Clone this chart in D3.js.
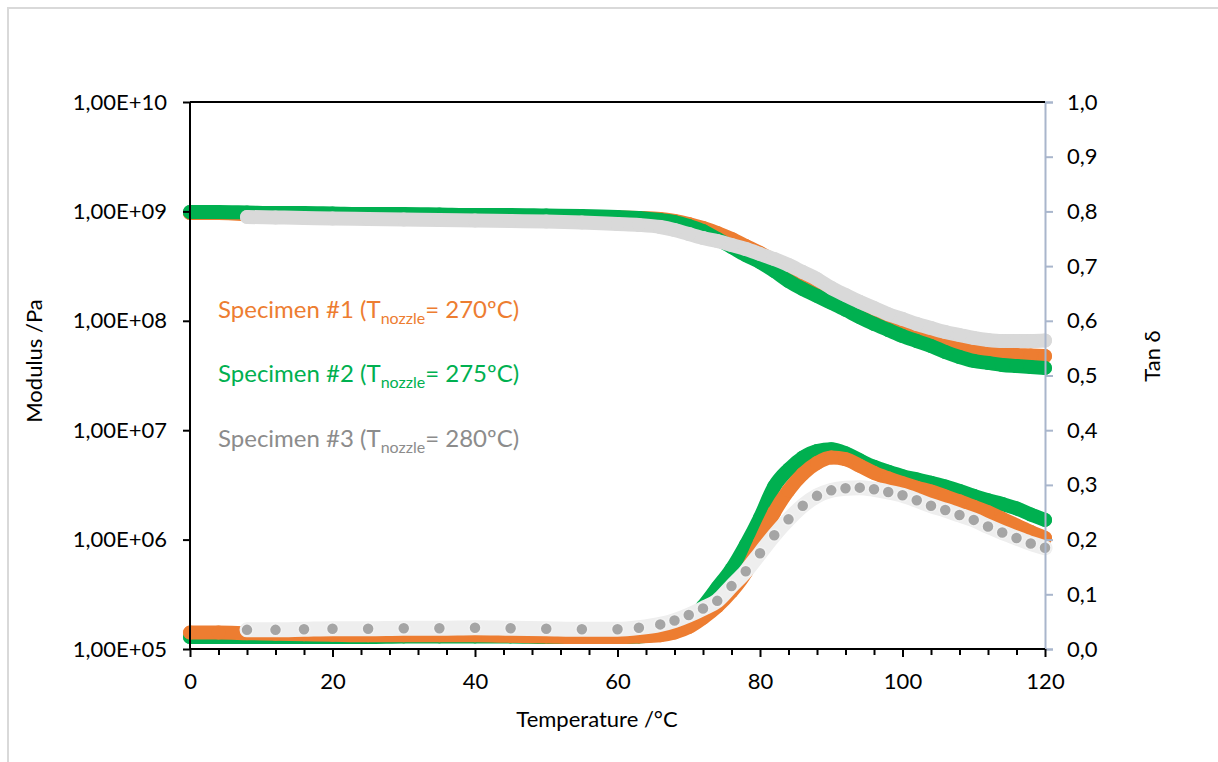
<!DOCTYPE html>
<html><head><meta charset="utf-8">
<script src="https://cdn.jsdelivr.net/npm/d3@7"></script>
<style>
html,body{margin:0;padding:0;background:#fff;}
svg{display:block;font-family:Lato,"Open Sans",sans-serif;}
</style></head>
<body><svg id="chart" width="1218" height="762"></svg>
<script>
// ---- data ----
const temps = [0,4,8,12,16,20,25,30,35,40,45,50,55,60,63,66,68,70,72,74,76,78,80,82,84,86,88,90,92,94,96,98,100,102,104,106,108,110,112,114,116,118,120];
const tempsS3 = [8,12,16,20,25,30,35,40,45,50,55,60,63,66,68,70,72,74,76,78,80,82,84,86,88,90,92,94,96,98,100,102,104,106,108,110,112,114,116,118,120];

const modulusS1 = [9.66e8,9.66e8,9.46e8,9.46e8,9.37e8,9.27e8,9.27e8,9.17e8,9.08e8,9.08e8,9.08e8,8.98e8,8.89e8,8.80e8,8.71e8,8.53e8,8.17e8,7.67e8,7.05e8,6.35e8,5.60e8,4.83e8,4.17e8,3.52e8,2.97e8,2.51e8,2.12e8,1.79e8,1.55e8,1.31e8,1.13e8,9.75e7,8.41e7,7.57e7,6.82e7,6.27e7,5.77e7,5.41e7,5.19e7,4.98e7,4.86e7,4.82e7,4.76e7];
const modulusS2 = [9.87e8,9.87e8,9.77e8,9.66e8,9.66e8,9.57e8,9.46e8,9.46e8,9.37e8,9.27e8,9.27e8,9.17e8,9.08e8,8.89e8,8.71e8,8.34e8,8.00e8,7.36e8,6.62e8,5.60e8,4.73e8,3.99e8,3.44e8,2.85e8,2.31e8,1.95e8,1.69e8,1.46e8,1.26e8,1.08e8,9.36e7,8.24e7,7.26e7,6.53e7,5.89e7,5.19e7,4.67e7,4.30e7,4.12e7,3.95e7,3.86e7,3.78e7,3.71e7];
const modulusS3 = [8.89e8,8.80e8,8.71e8,8.61e8,8.53e8,8.44e8,8.34e8,8.26e8,8.17e8,8.09e8,7.92e8,7.67e8,7.52e8,7.20e8,6.76e8,6.21e8,5.71e8,5.36e8,4.93e8,4.53e8,4.08e8,3.67e8,3.24e8,2.79e8,2.41e8,2.00e8,1.72e8,1.49e8,1.31e8,1.15e8,1.04e8,9.35e7,8.59e7,7.91e7,7.42e7,6.97e7,6.67e7,6.53e7,6.53e7,6.53e7,6.60e7];

const tanS1 = [0.030,0.030,0.029,0.028,0.027,0.026,0.025,0.025,0.025,0.025,0.024,0.023,0.022,0.022,0.023,0.025,0.030,0.040,0.057,0.078,0.105,0.140,0.195,0.250,0.290,0.320,0.340,0.350,0.347,0.335,0.322,0.312,0.303,0.295,0.288,0.279,0.270,0.260,0.250,0.238,0.226,0.214,0.203];
const tanS2 = [0.022,0.022,0.022,0.022,0.022,0.022,0.022,0.023,0.023,0.023,0.023,0.022,0.022,0.022,0.023,0.028,0.036,0.052,0.078,0.112,0.146,0.190,0.240,0.297,0.328,0.350,0.362,0.365,0.358,0.345,0.333,0.324,0.316,0.310,0.304,0.297,0.289,0.280,0.272,0.265,0.257,0.246,0.236];
const tanS3 = [0.035,0.035,0.036,0.037,0.037,0.038,0.038,0.039,0.038,0.037,0.036,0.036,0.039,0.045,0.052,0.062,0.074,0.088,0.115,0.142,0.175,0.208,0.237,0.262,0.280,0.290,0.294,0.295,0.292,0.287,0.281,0.272,0.262,0.254,0.245,0.236,0.224,0.213,0.203,0.193,0.185];

const leftTicks = [1e5,1e6,1e7,1e8,1e9,1e10];
const leftTickLabels = ["1,00E+05","1,00E+06","1,00E+07","1,00E+08","1,00E+09","1,00E+10"];
const rightTicks = [0,0.1,0.2,0.3,0.4,0.5,0.6,0.7,0.8,0.9,1.0];
const xMajorTicks = [0,20,40,60,80,100,120];
const legendNames = ["Specimen #1 (T","Specimen #2 (T","Specimen #3 (T"];
const legendTemps = ["= 270ºC)","= 275ºC)","= 280ºC)"];

// ---- layout ----
const svg = d3.select("#chart");
const L = 190, R = 1045, T = 102, B = 649;
const x = d3.scaleLinear().domain([0,120]).range([L,R]);
const yL = d3.scaleLog().domain([1e5,1e10]).range([B,T]);
const yR = d3.scaleLinear().domain([0,1]).range([B,T]);

svg.append("rect").attr("x",8).attr("y",8).attr("width",1230).attr("height",780)
  .attr("fill","#fff").attr("stroke","#d9d9d9").attr("stroke-width",2);

const colors = {s1:"#ED7D31", s2:"#00B050", s3mod:"#D9D9D9", s3tan:"#A5A5A5"};

function drawBand(xs, ys, yScale, color, width){
  const pts = xs.map((t,i)=>[t, ys[i]]);
  const line = d3.line().x(d=>x(d[0])).y(d=>yScale(d[1])).curve(d3.curveMonotoneX);
  svg.append("path").datum(pts).attr("d",line).attr("fill","none")
    .attr("stroke",color).attr("stroke-width",width)
    .attr("stroke-linecap","round").attr("stroke-linejoin","round");
  svg.append("g").selectAll("circle").data(pts).join("circle")
    .attr("cx",d=>x(d[0])).attr("cy",d=>yScale(d[1])).attr("r",width/2).attr("fill",color);
}

// modulus
drawBand(temps, modulusS1, yL, colors.s1, 14);
drawBand(temps, modulusS2, yL, colors.s2, 14);
drawBand(tempsS3, modulusS3, yL, colors.s3mod, 14);
// tan delta
drawBand(temps, tanS2, yR, colors.s2, 14);
drawBand(temps, tanS1, yR, colors.s1, 14);
{
  const pts = tempsS3.map((t,i)=>[t, tanS3[i]]);
  const line = d3.line().x(d=>x(d[0])).y(d=>yR(d[1])).curve(d3.curveMonotoneX);
  svg.append("path").datum(pts).attr("d",line).attr("fill","none")
    .attr("stroke","#EEEEEE").attr("stroke-width",15)
    .attr("stroke-linecap","round").attr("stroke-linejoin","round");
  svg.append("g").selectAll("circle").data(pts).join("circle")
    .attr("cx",d=>x(d[0])).attr("cy",d=>yR(d[1])).attr("r",6)
    .attr("fill",colors.s3tan).attr("stroke","#F2F2F2").attr("stroke-width",1.5);
}

// ---- axes ----
const fontSize = 22;
// right axis (tan delta)
const axR = d3.axisRight(yR).tickValues(rightTicks).tickSize(8).tickPadding(14)
  .tickFormat(d=>d3.format(".1f")(d).replace(".",","));
const gR = svg.append("g").attr("transform",`translate(${R},0)`).call(axR);
gR.select(".domain").attr("stroke","#A9B6CC").attr("stroke-width",2);
gR.selectAll(".tick line").attr("stroke","#A9B6CC").attr("stroke-width",2);
gR.selectAll("text").attr("fill","#000").style("font-size",fontSize+"px").style("font-family","Lato");

// bottom axis
const axB = d3.axisBottom(x).tickValues(d3.range(0,121,4)).tickSize(6)
  .tickFormat(d=> xMajorTicks.includes(d) ? d : "");
const gB = svg.append("g").attr("transform",`translate(0,${B})`).call(axB);
gB.select(".domain").attr("stroke","#000").attr("stroke-width",2).attr("d",`M${L},0H${R}`);
gB.selectAll(".tick line").attr("stroke","#000").attr("stroke-width",2)
  .attr("y2",d=> xMajorTicks.includes(d)?8:6);
gB.selectAll("text").attr("fill","#000").attr("y",24).style("font-size",fontSize+"px").style("font-family","Lato");

// left axis
const axL = d3.axisLeft(yL).tickValues(leftTicks).tickSize(7).tickPadding(16)
  .tickFormat((d,i)=>leftTickLabels[i]);
const gLft = svg.append("g").attr("transform",`translate(${L},0)`).call(axL);
gLft.select(".domain").attr("stroke","#000").attr("stroke-width",2).attr("d",`M0,${B}V${T}`);
gLft.selectAll(".tick line").attr("stroke","#000").attr("stroke-width",2);
gLft.selectAll("text").attr("fill","#000").style("font-size",fontSize+"px").style("font-family","Lato");

// top frame line
svg.append("line").attr("x1",L).attr("x2",R).attr("y1",T).attr("y2",T)
  .attr("stroke","#000").attr("stroke-width",2);

// axis titles
svg.append("text").attr("x",597).attr("y",727).attr("text-anchor","middle")
  .style("font-size","22px").attr("fill","#000").text("Temperature /°C");
svg.append("text").attr("transform","translate(42,361) rotate(-90)").attr("text-anchor","middle")
  .style("font-size","22px").attr("fill","#000").text("Modulus /Pa");
svg.append("text").attr("transform","translate(1160,356) rotate(-90)").attr("text-anchor","middle")
  .style("font-size","22px").attr("fill","#000").text("Tan δ");

// legend texts
const legColors = [colors.s1, colors.s2, "#8C8C8C"];
const legY = [318, 382, 447];
legendNames.forEach((n,i)=>{
  const t = svg.append("text").attr("x",218).attr("y",legY[i]).attr("fill",legColors[i])
    .style("font-size","24px");
  t.append("tspan").text(n);
  t.append("tspan").attr("dy",6).style("font-size","16px").text("nozzle");
  t.append("tspan").attr("dy",-6).text(legendTemps[i]);
});
</script></body></html>
